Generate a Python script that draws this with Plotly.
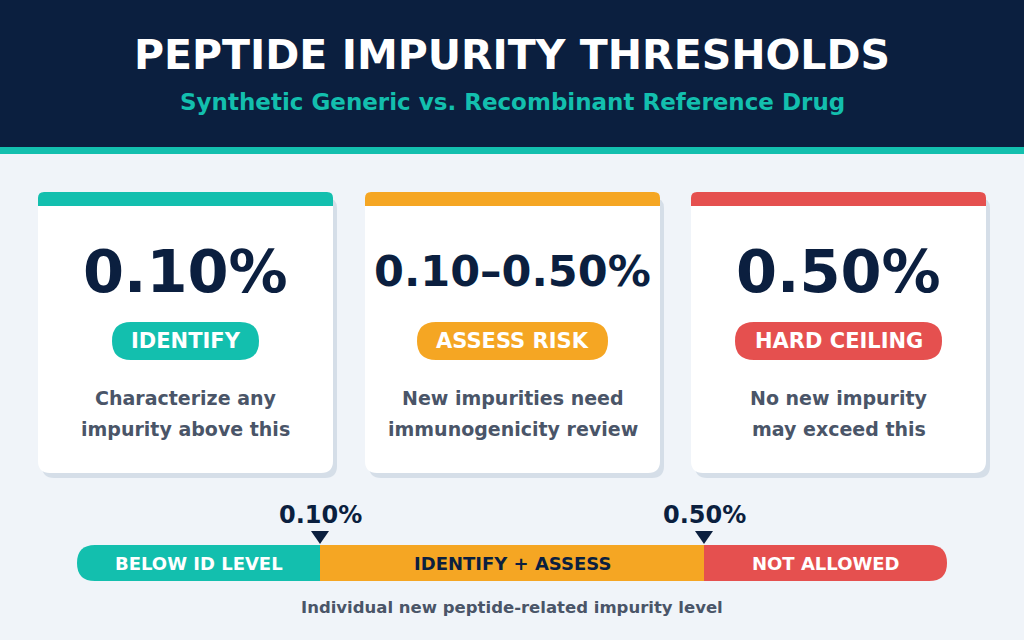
import plotly.graph_objects as go

# ---- content ----
title = "PEPTIDE IMPURITY THRESHOLDS"
subtitle = "Synthetic Generic vs. Recombinant Reference Drug"

card_values = ["0.10%", "0.10\u20130.50%", "0.50%"]
card_tags = ["IDENTIFY", "ASSESS RISK", "HARD CEILING"]
card_descs = [["Characterize any", "impurity above this"],
              ["New impurities need", "immunogenicity review"],
              ["No new impurity", "may exceed this"]]
card_colors = ["#13BFAE", "#F5A623", "#E5504F"]

band_labels = ["BELOW ID LEVEL", "IDENTIFY + ASSESS", "NOT ALLOWED"]
band_text_colors = ["white", "#0B1F3F", "white"]
marker_labels = ["0.10%", "0.50%"]
axis_caption = "Individual new peptide-related impurity level"

NAVY = "#0B1F3F"
BG = "#F0F4F9"
GREY = "#4A5568"
FONT = "DejaVu Sans"


def rpath(x0, y0, x1, y1, tl=0, tr=0, br=0, bl=0):
    # rounded rectangle in a y-down coordinate system
    return (f"M {x0+tl},{y0} L {x1-tr},{y0} Q {x1},{y0} {x1},{y0+tr} "
            f"L {x1},{y1-br} Q {x1},{y1} {x1-br},{y1} "
            f"L {x0+bl},{y1} Q {x0},{y1} {x0},{y1-bl} "
            f"L {x0},{y0+tl} Q {x0},{y0} {x0+tl},{y0} Z")


shapes = []
ann = []


def text(x, y, s, size, color, weight=700, xanchor="center"):
    ann.append(dict(x=x, y=y, text=s, showarrow=False, xref="x", yref="y",
                    xanchor=xanchor, yanchor="middle",
                    font=dict(family=FONT, size=size, color=color, weight=weight)))


def shape(path, color):
    shapes.append(dict(type="path", path=path, xref="x", yref="y",
                       fillcolor=color, line=dict(width=0), layer="below"))


# header
shape(rpath(0, 0, 1024, 148), NAVY)
shape(rpath(0, 147, 1024, 154), "#13BFAE")
text(512, 55, title, 41, "white")
text(512, 102, subtitle, 23, "#13BFAE")

# cards
card_x = [38, 365, 691]
card_w = 295
pill_ws = [147, 191, 207]
y_top, y_bot = 192, 473
for i in range(3):
    x0 = card_x[i]
    x1 = x0 + card_w
    xc = (x0 + x1) / 2
    shape(rpath(x0 + 4, y_top + 6, x1 + 4, y_bot + 5, 10, 10, 12, 12), "#D5DEE8")
    shape(rpath(x0, y_top, x1, y_bot, 8, 8, 12, 12), "white")
    shape(rpath(x0, y_top, x1, y_top + 14, 6, 6, 0, 0), card_colors[i])
    size = 59 if len(card_values[i]) < 7 else 43
    text(xc, 271, card_values[i], size, NAVY)
    pw = pill_ws[i]
    shape(rpath(xc - pw / 2, 322, xc + pw / 2, 360, 19, 19, 19, 19), card_colors[i])
    text(xc, 341, card_tags[i], 21, "white")
    text(xc, 398, card_descs[i][0], 19, GREY)
    text(xc, 429, card_descs[i][1], 19, GREY)

# scale bar
bx = [77, 320, 704, 947]
by0, by1 = 545, 581
rad = 18
for i in range(3):
    l = rad if i == 0 else 0
    r = rad if i == 2 else 0
    shape(rpath(bx[i], by0, bx[i + 1], by1, l, r, r, l), card_colors[i])
    text((bx[i] + bx[i + 1]) / 2, 563, band_labels[i], 18, band_text_colors[i])

for j, lab in enumerate(marker_labels):
    xm = bx[j + 1]
    shape(f"M {xm-9},{531} L {xm+9},{531} L {xm},{544} Z", NAVY)
    text(xm, 515, lab, 24, NAVY)

text(512, 607, axis_caption, 16.5, GREY)

fig = go.Figure()
fig.add_trace(go.Scatter(x=[0, 1024], y=[0, 640], mode="markers",
                         marker=dict(opacity=0), hoverinfo="skip", showlegend=False))
fig.update_layout(
    width=1024, height=640, margin=dict(l=0, r=0, t=0, b=0),
    paper_bgcolor=BG, plot_bgcolor=BG,
    xaxis=dict(range=[0, 1024], visible=False, fixedrange=True),
    yaxis=dict(range=[640, 0], visible=False, fixedrange=True),
    shapes=shapes, annotations=ann, showlegend=False,
)
fig.write_html("out.html", config={"displayModeBar": False},
               post_script="document.body.style.margin='0';")
